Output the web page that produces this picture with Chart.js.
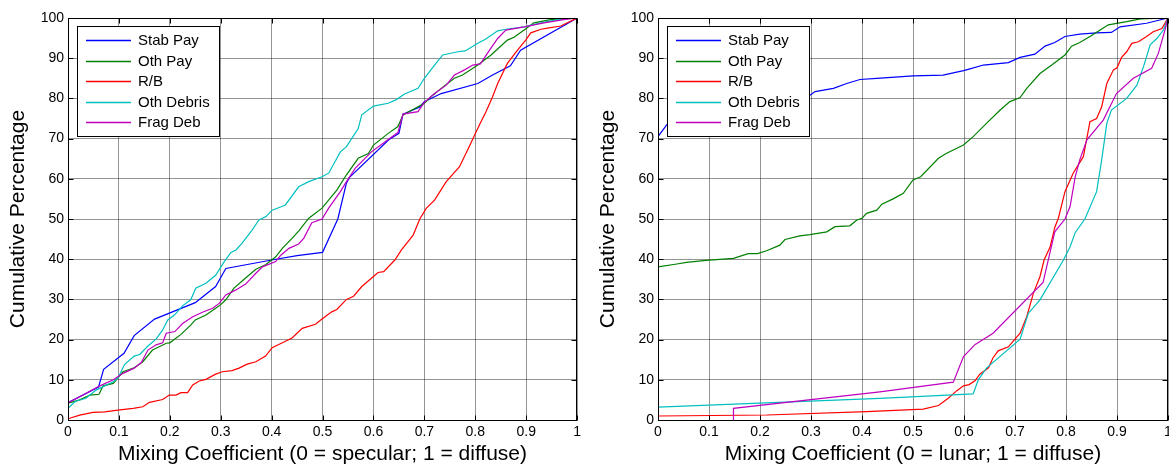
<!DOCTYPE html>
<html>
<head>
<meta charset="utf-8">
<script src="https://cdn.jsdelivr.net/npm/chart.js@4.4.1/dist/chart.umd.min.js"></script>
<style>
  html, body { margin: 0; padding: 0; background: #fff; overflow: hidden; width: 1169px; height: 469px; }
  canvas { position: absolute; top: 0; }
  #leftChart { left: 0; }
  #rightChart { left: 590px; }
</style>
</head>
<body>
<canvas id="leftChart" width="585" height="469"></canvas>
<canvas id="rightChart" width="590" height="469"></canvas>
<script>
/* ---------- Data ---------- */
const seriesNames = ["Stab Pay", "Oth Pay", "R/B", "Oth Debris", "Frag Deb"];
const seriesColors = ["#0000ff", "#008000", "#ff0000", "#00bfbf", "#bf00bf"];
const xTickLabels = ["0", "0.1", "0.2", "0.3", "0.4", "0.5", "0.6", "0.7", "0.8", "0.9", "1"];
const yTickLabels = ["0", "10", "20", "30", "40", "50", "60", "70", "80", "90", "100"];

// left panel: specular vs diffuse
const specStabX = [0, 0, 0.06, 0.07, 0.11, 0.13, 0.17, 0.25, 0.29, 0.31, 0.40, 0.45, 0.50, 0.53, 0.547, 0.554, 0.63, 0.65, 0.658, 0.69, 0.70, 0.733, 0.805, 0.834, 0.869, 0.889, 1];
const specStabY = [0, 4.3, 8.2, 12.6, 16.6, 21, 25.1, 29.2, 33.2, 37.7, 39.8, 40.9, 41.7, 50, 59, 60.5, 69.7, 71.3, 76.1, 77.8, 79.2, 81.2, 83.7, 85.8, 88.1, 92, 100];

const specOthPayX = [0, 0, 0.023, 0.043, 0.061, 0.069, 0.089, 0.108, 0.13, 0.147, 0.166, 0.193, 0.20, 0.222, 0.241, 0.25, 0.271, 0.29, 0.30, 0.31, 0.326, 0.346, 0.369, 0.388, 0.408, 0.421, 0.44, 0.453, 0.473, 0.499, 0.528, 0.547, 0.57, 0.59, 0.60, 0.629, 0.648, 0.658, 0.70, 0.713, 0.733, 0.759, 0.775, 0.805, 0.831, 0.863, 0.876, 0.896, 0.915, 0.948, 1];
const specOthPayY = [0, 4.2, 5, 6.2, 6.4, 8.5, 9.1, 12, 13, 14.5, 17.4, 19.1, 19.2, 21.3, 23.6, 24.9, 26.1, 27.8, 28.7, 29.9, 32.8, 35, 37.5, 38.6, 40.6, 42.7, 45.2, 47, 50.2, 52.7, 57.2, 61, 65.1, 66.3, 68.4, 71.3, 73, 75.9, 78.8, 80.4, 82.5, 85, 85.8, 88.3, 90.8, 94.5, 95.2, 97, 98.8, 99.6, 100];

const specRBX = [0, 0, 0.023, 0.049, 0.072, 0.102, 0.128, 0.147, 0.16, 0.186, 0.199, 0.212, 0.222, 0.235, 0.245, 0.258, 0.271, 0.29, 0.303, 0.322, 0.336, 0.352, 0.369, 0.388, 0.401, 0.421, 0.44, 0.46, 0.486, 0.499, 0.518, 0.528, 0.547, 0.561, 0.577, 0.60, 0.609, 0.62, 0.642, 0.655, 0.678, 0.691, 0.704, 0.72, 0.743, 0.769, 0.788, 0.808, 0.821, 0.834, 0.844, 0.863, 0.883, 0.899, 0.909, 0.929, 0.942, 0.968, 0.987, 1];
const specRBY = [0, 0.3, 1.2, 1.9, 2, 2.5, 2.9, 3.3, 4.4, 5.1, 6.2, 6.2, 6.8, 6.8, 8.7, 9.7, 10.1, 11.4, 12, 12.3, 12.9, 13.9, 14.5, 15.9, 18, 19.2, 20.4, 22.8, 23.8, 25.1, 26.9, 27.5, 30, 30.8, 33.2, 35.7, 36.7, 36.9, 39.8, 42.3, 46, 50, 52.7, 54.7, 59.3, 63, 68, 73.4, 76.7, 80.4, 83.7, 88.7, 92, 94.5, 96.3, 97.2, 97.5, 98, 99.2, 100];

const specDebrisX = [0, 0, 0.014, 0.035, 0.056, 0.069, 0.089, 0.098, 0.111, 0.13, 0.141, 0.157, 0.173, 0.186, 0.196, 0.209, 0.225, 0.241, 0.251, 0.271, 0.29, 0.307, 0.32, 0.33, 0.342, 0.362, 0.375, 0.389, 0.401, 0.42, 0.427, 0.453, 0.473, 0.499, 0.512, 0.535, 0.547, 0.57, 0.577, 0.60, 0.629, 0.645, 0.661, 0.6875, 0.70, 0.72, 0.736, 0.766, 0.78, 0.805, 0.82, 0.844, 0.86, 0.896, 0.929, 0.974, 1];
const specDebrisY = [0, 2.9, 4.6, 5.4, 7.5, 8.3, 9.5, 10.4, 13.8, 15.9, 16.3, 18.4, 20.1, 22.4, 24.9, 26.1, 28.4, 29.9, 32.8, 34, 36, 39.4, 41.7, 42.3, 44, 47.3, 49.75, 50.6, 52.2, 53.1, 53.5, 58, 59.3, 60.5, 61.4, 66.7, 68, 72.5, 75.9, 78.1, 78.8, 79.7, 81.1, 82.5, 85, 88.3, 90.8, 91.6, 91.8, 93.7, 94.7, 96.8, 97.2, 97.8, 98.8, 99.9, 100];

const specFragX = [0, 0, 0.023, 0.0625, 0.089, 0.108, 0.13, 0.144, 0.157, 0.173, 0.186, 0.193, 0.21, 0.225, 0.245, 0.264, 0.284, 0.297, 0.31, 0.329, 0.349, 0.369, 0.382, 0.408, 0.418, 0.434, 0.453, 0.463, 0.479, 0.499, 0.512, 0.535, 0.547, 0.564, 0.596, 0.629, 0.648, 0.658, 0.6875, 0.70, 0.72, 0.743, 0.759, 0.779, 0.795, 0.81, 0.828, 0.844, 0.86, 0.896, 0.935, 0.974, 1];
const specFragY = [0, 4.3, 5.8, 8.5, 10, 11.6, 12.9, 14.3, 17.4, 18.7, 19.2, 21.6, 22, 24, 25.7, 26.8, 27.8, 29, 31.1, 32.3, 33.8, 36.5, 38.1, 39.4, 41, 42.7, 43.8, 45.2, 49.1, 50, 52.7, 56.8, 59.3, 62.6, 66.7, 69.8, 71.5, 76.1, 76.7, 79, 81.2, 83.3, 85.8, 87.1, 88.3, 88.6, 92, 94.9, 97, 97.8, 98.8, 99.6, 100];

// right panel: lunar vs diffuse
const lunStabX = [0, 0, 0.017, 0.037, 0.1, 0.2, 0.294, 0.308, 0.344, 0.37, 0.396, 0.429, 0.5, 0.559, 0.599, 0.61, 0.638, 0.687, 0.71, 0.739, 0.759, 0.778, 0.798, 0.827, 0.86, 0.889, 0.906, 0.958, 1];
const lunStabY = [0, 70.5, 73.4, 75.9, 77.5, 79, 80.4, 81.7, 82.5, 83.7, 84.7, 85, 85.6, 85.8, 86.9, 87.3, 88.3, 88.9, 90.2, 91, 93, 93.9, 95.4, 96, 96.3, 96.4, 97.8, 98.7, 100];

const lunOthPayX = [0, 0, 0.037, 0.056, 0.094, 0.148, 0.177, 0.195, 0.213, 0.239, 0.249, 0.278, 0.298, 0.331, 0.347, 0.376, 0.39, 0.4, 0.409, 0.429, 0.439, 0.461, 0.481, 0.5, 0.515, 0.55, 0.565, 0.599, 0.618, 0.644, 0.671, 0.69, 0.71, 0.723, 0.749, 0.772, 0.798, 0.811, 0.827, 0.847, 0.867, 0.883, 0.919, 0.946, 1];
const lunOthPayY = [0, 38.1, 38.8, 39.2, 39.7, 40.2, 41.4, 41.4, 42.1, 43.5, 44.9, 45.8, 46.1, 46.8, 48.1, 48.3, 49.75, 50.2, 51.4, 52.2, 53.7, 55, 56.4, 59.7, 60.5, 65.1, 66.3, 68.4, 70.5, 73.8, 77.1, 79.2, 80.2, 82.5, 86.2, 88.3, 90.8, 93, 93.9, 95.4, 97, 98.3, 99.1, 99.8, 100];

const lunRBX = [0, 0, 0.213, 0.409, 0.52, 0.55, 0.569, 0.586, 0.599, 0.61, 0.622, 0.631, 0.648, 0.657, 0.667, 0.687, 0.697, 0.71, 0.723, 0.736, 0.749, 0.757, 0.769, 0.778, 0.785, 0.798, 0.814, 0.834, 0.847, 0.86, 0.87, 0.88, 0.893, 0.90, 0.909, 0.919, 0.929, 0.942, 0.958, 0.971, 0.988, 1];
const lunRBY = [0, 1.0, 1.25, 2.1, 2.7, 3.6, 5.4, 7.3, 8.5, 8.8, 9.8, 11.4, 13, 15.5, 17.2, 18.2, 19.7, 21.6, 25.7, 31.5, 35.7, 39.8, 43.1, 47.9, 50.2, 56.8, 61.4, 65.5, 74.2, 75, 77.9, 83.7, 87.1, 87.6, 90.2, 91.6, 93.7, 94.1, 95.4, 96.6, 97.4, 100];

const lunDebrisX = [0, 0, 0.435, 0.618, 0.628, 0.644, 0.71, 0.726, 0.749, 0.795, 0.808, 0.818, 0.837, 0.86, 0.87, 0.88, 0.889, 0.919, 0.939, 0.952, 0.965, 0.978, 0.991, 1];
const lunDebrisY = [0, 3.2, 5.4, 6.5, 10, 12.9, 20.1, 26.5, 29.9, 39.8, 43.1, 46.6, 50, 56.8, 64.7, 73.8, 77.1, 80, 83.3, 87.9, 93.3, 94.9, 97, 100];

const lunFragX = [0.148, 0.148, 0.435, 0.579, 0.599, 0.622, 0.657, 0.755, 0.778, 0.798, 0.808, 0.818, 0.827, 0.841, 0.873, 0.899, 0.932, 0.968, 0.981, 0.994, 1];
const lunFragY = [0, 2.9, 7, 9.4, 15.8, 18.8, 21.6, 34.2, 46.8, 50, 53.1, 60.5, 64.7, 69.7, 74.6, 81.2, 85, 87.5, 91.2, 97, 100];

/* ---------- Plugins ---------- */
// MATLAB-style frame with inward tick marks on all four sides
const frameTicks = {
    id: "frameTicks",
    afterDraw(chart) {
        const { ctx, chartArea: a, scales } = chart;
        const L = Math.round(a.left) + 0.5, R = Math.round(a.right) - 0.5;
        const T = Math.round(a.top) + 0.5, B = Math.round(a.bottom) + 0.5;
        ctx.save();
        ctx.strokeStyle = "#000";
        ctx.lineWidth = 1;
        ctx.beginPath();
        scales.x.ticks.forEach(function (t) {
            const px = Math.round(scales.x.getPixelForValue(t.value)) + 0.5;
            ctx.moveTo(px, B); ctx.lineTo(px, B - 5);
            ctx.moveTo(px, T); ctx.lineTo(px, T + 5);
        });
        scales.y.ticks.forEach(function (t) {
            const py = Math.round(scales.y.getPixelForValue(t.value)) + 0.5;
            ctx.moveTo(L, py); ctx.lineTo(L + 5, py);
            ctx.moveTo(R, py); ctx.lineTo(R - 5, py);
        });
        ctx.stroke();
        ctx.strokeRect(L, T, R - L, B - T);
        ctx.restore();
    }
};

// boxed legend in the upper-left of the plot area
const boxLegend = {
    id: "boxLegend",
    afterDatasetsDraw(chart) {
        const { ctx, chartArea: a } = chart;
        const bx = Math.round(a.left) + 9, by = Math.round(a.top) + 8;
        const bw = 142, bh = 110;
        ctx.save();
        ctx.fillStyle = "#fff";
        ctx.fillRect(bx, by, bw, bh);
        ctx.strokeStyle = "#000";
        ctx.lineWidth = 1;
        ctx.strokeRect(bx + 0.5, by + 0.5, bw, bh);
        ctx.font = "15px 'Liberation Sans', Arial, sans-serif";
        ctx.textBaseline = "middle";
        chart.data.datasets.forEach(function (ds, i) {
            const yy = Math.round(by + 14 + i * 20.5) + 0.5;
            ctx.strokeStyle = ds.borderColor;
            ctx.lineWidth = 1.3;
            ctx.beginPath();
            ctx.moveTo(bx + 9, yy);
            ctx.lineTo(bx + 54, yy);
            ctx.stroke();
            ctx.fillStyle = "#000";
            ctx.fillText(ds.label, bx + 61, yy);
        });
        ctx.restore();
    }
};

/* ---------- Chart builder ---------- */
Chart.defaults.font.family = "'Liberation Sans', Arial, sans-serif";
Chart.defaults.color = "#000";

function makeChart(id, xs, ys, xTitle, padRight) {
    const datasets = seriesNames.map(function (name, i) {
        return {
            label: name,
            data: xs[i].map(function (x, k) { return { x: x, y: ys[i][k] }; }),
            borderColor: seriesColors[i],
            backgroundColor: seriesColors[i],
            borderWidth: 1.2,
            showLine: true,
            pointRadius: 0,
            tension: 0,
            order: seriesNames.length - i
        };
    });
    return new Chart(document.getElementById(id), {
        type: "scatter",
        data: { datasets: datasets },
        options: {
            responsive: false,
            animation: false,
            events: [],
            layout: { padding: { left: 0, right: padRight, top: 18, bottom: 0 } },
            plugins: { legend: { display: false }, tooltip: { enabled: false } },
            scales: {
                x: {
                    type: "linear", min: 0, max: 1,
                    afterFit: function (s) { s.height = 49; },
                    border: { display: false },
                    grid: { color: "rgba(0,0,0,0.42)", drawTicks: false, lineWidth: 1 },
                    ticks: {
                        stepSize: 0.1, padding: 4, autoSkip: false, maxRotation: 0,
                        font: { size: 14 },
                        callback: function (v, i) { return xTickLabels[i]; }
                    },
                    title: { display: true, text: xTitle, font: { size: 21 }, padding: { top: 0, bottom: 2 } }
                },
                y: {
                    type: "linear", min: 0, max: 100,
                    afterFit: function (s) { s.width = 68; },
                    border: { display: false },
                    grid: { color: "rgba(0,0,0,0.42)", drawTicks: false, lineWidth: 1 },
                    ticks: {
                        stepSize: 10, padding: 4, autoSkip: false,
                        font: { size: 14 },
                        callback: function (v, i) { return yTickLabels[i]; }
                    },
                    title: { display: true, text: "Cumulative Percentage", font: { size: 21 }, padding: { top: 6, bottom: 0 } }
                }
            }
        },
        plugins: [boxLegend, frameTicks]
    });
}

makeChart("leftChart",
    [specStabX, specOthPayX, specRBX, specDebrisX, specFragX],
    [specStabY, specOthPayY, specRBY, specDebrisY, specFragY],
    "Mixing Coefficient (0 = specular; 1 = diffuse)", 5);

makeChart("rightChart",
    [lunStabX, lunOthPayX, lunRBX, lunDebrisX, lunFragX],
    [lunStabY, lunOthPayY, lunRBY, lunDebrisY, lunFragY],
    "Mixing Coefficient (0 = lunar; 1 = diffuse)", 12);
</script>
</body>
</html>
